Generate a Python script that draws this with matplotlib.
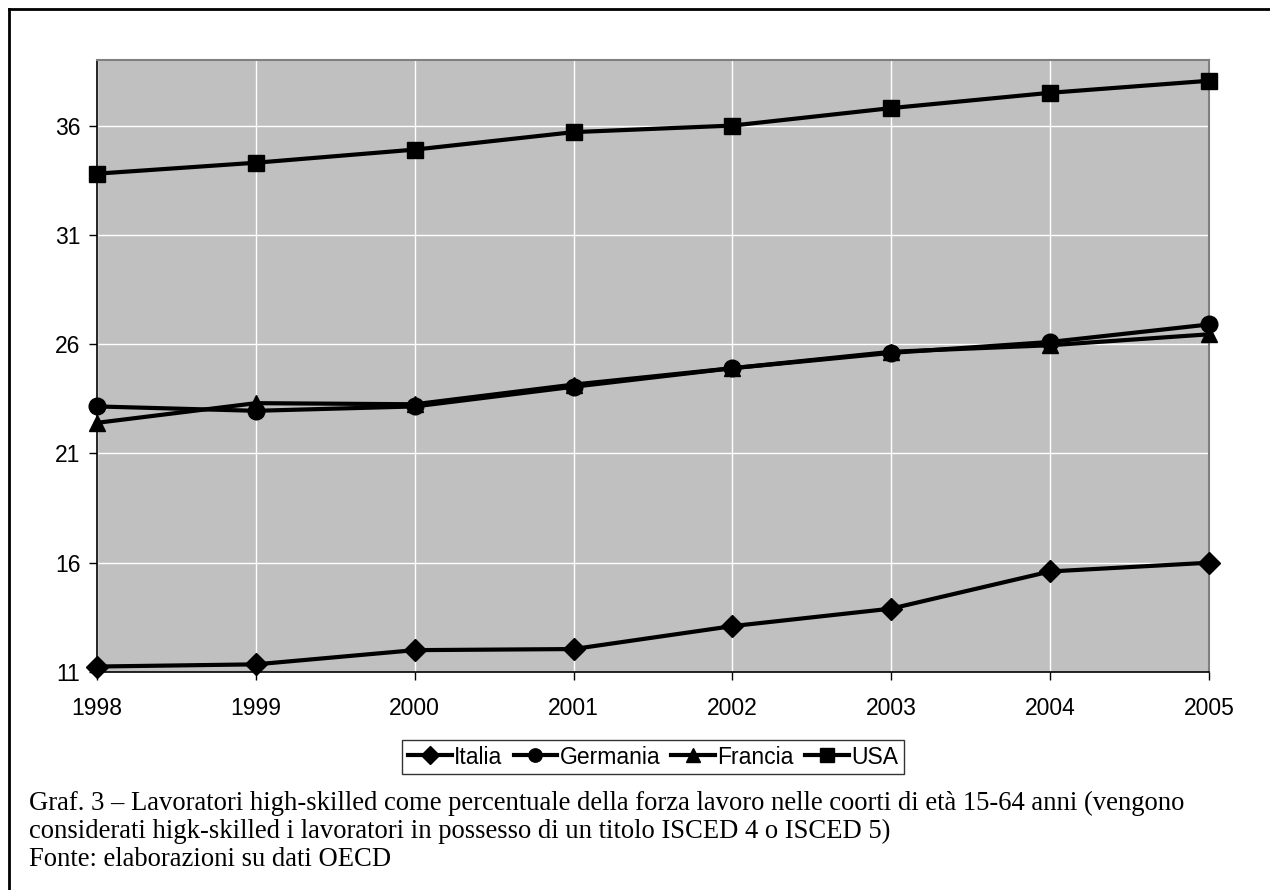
import matplotlib
matplotlib.use('Agg')
import matplotlib.pyplot as plt
from matplotlib.lines import Line2D

# Data
anni = [1998, 1999, 2000, 2001, 2002, 2003, 2004, 2005]
italia = [11.25, 11.35, 12.0, 12.05, 13.1, 13.9, 15.6, 16.0]
germania = [23.15, 22.95, 23.15, 24.05, 24.9, 25.6, 26.1, 26.9]
francia = [22.4, 23.3, 23.25, 24.15, 24.9, 25.65, 25.95, 26.45]
usa = [33.8, 34.3, 34.9, 35.7, 36.0, 36.8, 37.5, 38.05]
y_ticks = [11, 16, 21, 26, 31, 36]

caption = [
    'Graf. 3 \u2013 Lavoratori high-skilled come percentuale della forza lavoro nelle coorti di et\u00e0 15-64 anni (vengono',
    'considerati higk-skilled i lavoratori in possesso di un titolo ISCED 4 o ISCED 5)',
    'Fonte: elaborazioni su dati OECD',
]

W, H = 1270, 890
fig = plt.figure(figsize=(W / 100, H / 100), dpi=100)
fig.patch.set_facecolor('white')

# plot area in pixel coordinates of the reference
x0, x1, ytop, ybot = 97, 1209, 60, 672
ax = fig.add_axes([x0 / W, 1 - ybot / H, (x1 - x0) / W, (ybot - ytop) / H])
ax.set_facecolor('#c0c0c0')

series = [
    ('Italia', italia, 'D', 11),
    ('Germania', germania, 'o', 12),
    ('Francia', francia, '^', 12),
    ('USA', usa, 's', 12),
]
for name, vals, mk, ms in series:
    ax.plot(anni, vals, color='black', lw=3, marker=mk, ms=ms,
            markerfacecolor='black', markeredgecolor='black', label=name,
            clip_on=False, zorder=3)

ax.set_xlim(1998, 2005)
ax.set_ylim(11, 39)
ax.set_xticks(anni)
ax.set_yticks(y_ticks)
ax.grid(True, color='white', lw=1)
ax.set_axisbelow(True)

for side in ['top', 'right']:
    ax.spines[side].set_color('#808080')
    ax.spines[side].set_linewidth(1.5)
for side in ['left', 'bottom']:
    ax.spines[side].set_color('black')
    ax.spines[side].set_linewidth(1.2)

ax.tick_params(axis='both', direction='out', length=6, width=1, color='black',
               labelsize=16.5)
ax.tick_params(axis='y', pad=6)
ax.tick_params(axis='x', pad=12)
for lbl in ax.get_xticklabels() + ax.get_yticklabels():
    lbl.set_fontfamily('Liberation Sans')

leg = ax.legend(loc='center', bbox_to_anchor=(653 / W, 1 - 757 / H),
                bbox_transform=fig.transFigure, ncol=4, frameon=True,
                fancybox=False, edgecolor='black', handlelength=1.9,
                handletextpad=0.1, columnspacing=0.5, borderpad=0.25,
                prop={'family': 'Liberation Sans', 'size': 16.5}, markerscale=0.8)
leg.get_frame().set_linewidth(1)

# caption lines
for i, line in enumerate(caption):
    fig.text(29 / W, 1 - (803 + 28 * i) / H, line, ha='left', va='center',
             fontsize=19.2, fontfamily='Liberation Serif', color='black')

# outer frame (left and top edges visible)
fig.add_artist(Line2D([9 / W, 9 / W], [0, 1 - 9 / H], color='black', lw=2,
                      transform=fig.transFigure))
fig.add_artist(Line2D([9 / W, 1], [1 - 9 / H, 1 - 9 / H], color='black', lw=2,
                      transform=fig.transFigure))

fig.savefig('out.png', dpi=100)
